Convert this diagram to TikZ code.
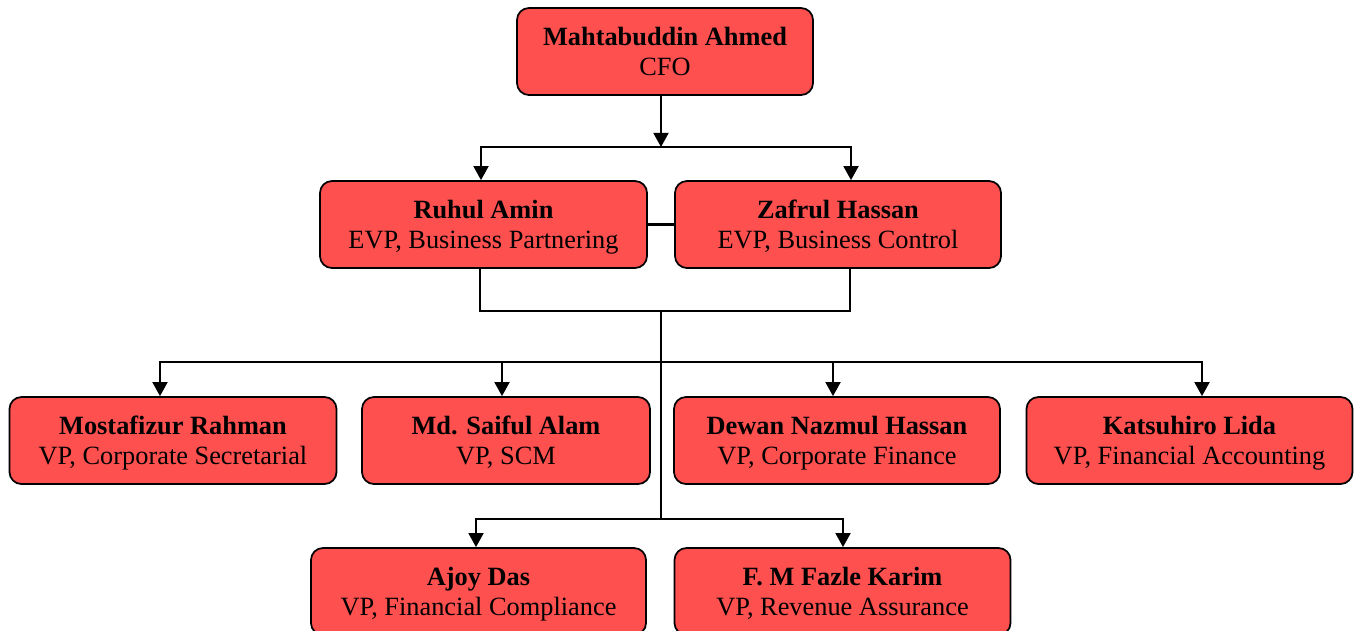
\documentclass[tikz,border=0pt]{standalone}
\usepackage{fontspec}
\setmainfont{Liberation Serif}
\usetikzlibrary{arrows.meta,calc}

\definecolor{boxred}{RGB}{255,80,80}

\tikzset{
  person/.style={draw, fill=boxred, rounded corners=6.8pt, line width=1pt,
    align=center, inner sep=0pt, minimum height=1.74cm,
    text height=31pt, text depth=3.5pt,
    minimum width=#1*0.02cm, font=\fontsize{15}{17}\selectfont},
  link/.style={line width=1.2pt},
  arr/.style={link, -{Triangle[width=8.5pt,length=8pt]}}
}

\begin{document}
\begin{tikzpicture}[x=0.02cm, y=-0.02cm]

    % --- Page frame (pixel units) ---
    \useasboundingbox (0,0) rectangle (1360,630);

    % --- Bus points ---
    \coordinate (topbus) at (661,147);
    \coordinate (midbus) at (661,310);
    \coordinate (rowbus) at (661,362);
    \coordinate (lowbus) at (661,519);

    % --- Boxes ---
    \node[person=296] (cfo) at (665,51.5) {\textbf{Mahtabuddin Ahmed}\\CFO};

    \node[person=327] (ruhul) at (483.5,224.5) {\textbf{Ruhul Amin}\\EVP, Business Partnering};
    \node[person=326] (zafrul) at (838,224.5) {\textbf{Zafrul Hassan}\\EVP, Business Control};

    \node[person=327] (mostafizur) at (173,440.5) {\textbf{Mostafizur Rahman}\\VP, Corporate Secretarial};
    \node[person=288] (saiful) at (506,440.5) {\textbf{Md. Saiful Alam}\\VP, SCM};
    \node[person=326] (dewan) at (837,440.5) {\textbf{Dewan Nazmul Hassan}\\VP, Corporate Finance};
    \node[person=326] (katsuhiro) at (1189.5,440.5) {\textbf{Katsuhiro Lida}\\VP, Financial Accounting};

    \node[person=335] (ajoy) at (478.5,591.5) {\textbf{Ajoy Das}\\VP, Financial Compliance};
    \node[person=336] (fmkarim) at (842.5,591.5) {\textbf{F. M Fazle Karim}\\VP, Revenue Assurance};

    % --- CFO to EVPs ---
    \draw[arr] (cfo.south -| topbus) -- (topbus);
    \draw[arr] (topbus) -| ($(ruhul.north)+(-2.5,0)$);
    \draw[arr] (topbus) -| ($(zafrul.north)+(13,0)$);
    \draw[link] (ruhul.east) -- (zafrul.west);

    % --- EVPs to VPs ---
    \draw[link] ($(ruhul.south)+(-3.5,0)$) -- ++(0,42) -| ($(zafrul.south)+(12,0)$);
    \draw[line width=0.8pt] (midbus) -- (lowbus);
    \foreach \n/\dx in {mostafizur/-13, saiful/-4, dewan/-4, katsuhiro/12.5}
        \draw[arr] (rowbus) -| ($(\n.north)+(\dx,0)$);
    \foreach \n/\dx in {ajoy/-2.5, fmkarim/0.5}
        \draw[arr] (lowbus) -| ($(\n.north)+(\dx,0)$);

\end{tikzpicture}
\end{document}
